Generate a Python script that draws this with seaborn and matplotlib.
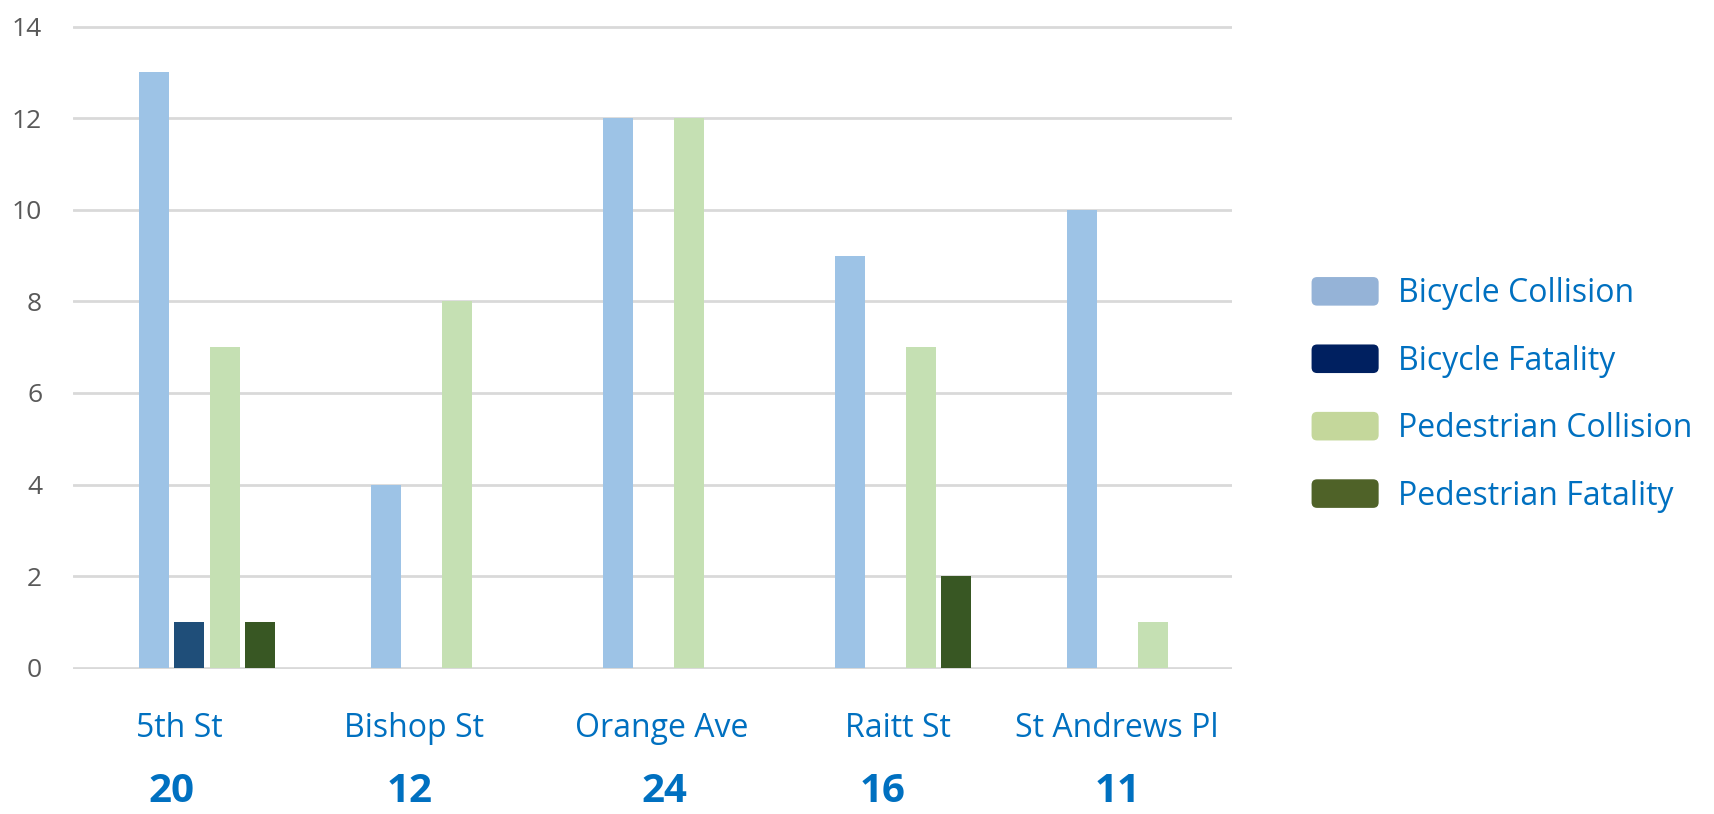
import matplotlib
matplotlib.use("Agg")
import matplotlib.pyplot as plt
import seaborn as sns
import pandas as pd
from matplotlib.patches import FancyBboxPatch, Patch
from matplotlib.legend_handler import HandlerPatch
from matplotlib.transforms import blended_transform_factory

# ---- data ----
streets = ["5th St", "Bishop St", "Orange Ave", "Raitt St", "St Andrews Pl"]
series = ["Bicycle Collision", "Bicycle Fatality", "Pedestrian Collision", "Pedestrian Fatality"]
bicycle_collision = [13, 4, 12, 9, 10]
bicycle_fatality = [1, 0, 0, 0, 0]
pedestrian_collision = [7, 8, 12, 7, 1]
pedestrian_fatality = [1, 0, 0, 2, 0]
totals = [20, 12, 24, 16, 11]
yticks = [0, 2, 4, 6, 8, 10, 12, 14]

# ---- layout (label nudges, in category units) ----
label_dx = [-0.12, -0.11, -0.04, -0.02, -0.08]
total_dx = [-0.155, -0.125, -0.03, -0.09, -0.075]

# ---- styles ----
bar_colors = ["#9dc3e6", "#1f4e79", "#c5e0b3", "#385723"]
legend_colors = ["#95b3d7", "#002060", "#c4d79b", "#4f6228"]
blue_text = "#0070c0"

sns.set_theme(style="white")
plt.rcParams["font.family"] = ["Open Sans", "DejaVu Sans"]

rows = []
for s, vals in zip(series, [bicycle_collision, bicycle_fatality, pedestrian_collision, pedestrian_fatality]):
    for st, v in zip(streets, vals):
        rows.append({"Street": st, "Type": s, "Count": v})
df = pd.DataFrame(rows)

fig = plt.figure(figsize=(17.15, 8.14), dpi=100)
ax = fig.add_axes([0.0424, 0.178, 0.676, 0.791])

sns.barplot(data=df, x="Street", y="Count", hue="Type", order=streets, hue_order=series,
            palette=bar_colors, saturation=1, width=0.612, gap=0.16, linewidth=0,
            legend=False, ax=ax, errorbar=None)

ax.set_xlim(-0.579, 4.418)
ax.set_ylim(-0.03, 14.03)
ax.set_yticks(yticks)
ax.set_xticks([i + d for i, d in enumerate(label_dx)])
ax.set_xticklabels(streets)
ax.set_xlabel("")
ax.set_ylabel("")
for sp in ax.spines.values():
    sp.set_visible(False)
ax.yaxis.grid(True, color="#d9d9d9", linewidth=2)
ax.xaxis.grid(False)
ax.set_axisbelow(True)
ax.tick_params(axis="y", length=0, pad=22, labelsize=19, labelcolor="#595959")
ax.tick_params(axis="x", length=0, pad=31, labelsize=23, labelcolor=blue_text)

trans = blended_transform_factory(ax.transData, ax.transAxes)
for i, t in enumerate(totals):
    ax.text(i + total_dx[i], -0.19, str(t), transform=trans, ha="center", va="center",
            fontsize=29, fontweight="bold", color=blue_text)


class RoundHandler(HandlerPatch):
    def create_artists(self, legend, orig_handle, xdescent, ydescent, width, height, fontsize, trans):
        p = FancyBboxPatch((-xdescent, -ydescent), width, height,
                           boxstyle="round,pad=0,rounding_size=4",
                           facecolor=orig_handle.get_facecolor(), edgecolor="none",
                           transform=trans)
        return [p]


handles = [Patch(facecolor=c, label=l) for c, l in zip(legend_colors, series)]
leg = fig.legend(handles=handles, loc="center left", bbox_to_anchor=(0.748, 0.515),
                 frameon=False, fontsize=23, handlelength=2.1, handleheight=1.0,
                 handletextpad=0.6, labelspacing=1.07,
                 handler_map={Patch: RoundHandler()})
for txt in leg.get_texts():
    txt.set_color(blue_text)

fig.savefig("out.png", dpi=100)
